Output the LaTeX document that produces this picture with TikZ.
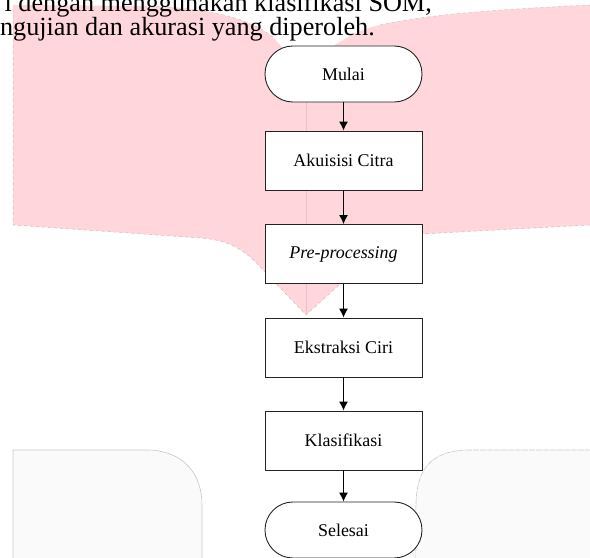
\documentclass[tikz,border=0pt]{standalone}
\usepackage{fontspec}
\setmainfont{Liberation Serif}
\usetikzlibrary{arrows.meta}
\definecolor{pinkbg}{RGB}{255,214,219}
\definecolor{pinkline}{RGB}{238,192,198}
\definecolor{pinkedge}{RGB}{175,160,165}
\definecolor{greybg}{RGB}{250,250,250}
\definecolor{greyline}{RGB}{200,200,200}
\definecolor{boxline}{RGB}{35,35,35}
\begin{document}
\begin{tikzpicture}[x=1bp,y=-1bp,
  flowbox/.style={draw=boxline, line width=0.9bp, fill=white, minimum width=157bp,
    minimum height=59bp, inner sep=0pt, font=\fontsize{18}{20}\selectfont},
  termbox/.style={flowbox, minimum height=56bp, rounded corners=27.9bp},
  flowarrow/.style={draw=black, line width=1bp, -{Latex[length=9bp,width=9bp]}},
  paratext/.style={inner sep=0pt, font=\fontsize{26.3}{28}\selectfont}]
\useasboundingbox (0,0) rectangle (590,558);
\clip (0,0) rectangle (590,558);
% pink background shape
\fill[pinkbg] (13,5) -- (150,6) .. controls (200,8) and (245,15) .. (273,37) -- (306,75)
  -- (335,45) .. controls (350,35) and (365,28) .. (380,25)
  .. controls (420,16) and (480,10) .. (590,5) -- (590,225) -- (422,234)
  .. controls (395,236) and (380,245) .. (370,257) -- (306,315) -- (263,270)
  .. controls (245,250) and (230,240) .. (200,238) -- (13,225) -- cycle;
\draw[pinkedge, dashed, line width=0.5bp, opacity=0.6]
  (590,225) -- (422,234) .. controls (395,236) and (380,245) .. (370,257) -- (306,315) -- (263,270)
  .. controls (245,250) and (230,240) .. (200,238) -- (13,225) -- (13,5);
\draw[pinkedge, dashed, line width=0.5bp, opacity=0.5]
  (273,37) .. controls (245,15) and (200,8) .. (150,6);
\draw[pinkedge, dashed, line width=0.5bp, opacity=0.5]
  (380,25) .. controls (420,16) and (480,10) .. (590,5);
\draw[pinkline, line width=0.8bp] (306,75) -- (306,315);
% grey background shapes
\fill[greybg] (13,560) -- (13,450) -- (150,450) .. controls (185,452) and (202,475) .. (202,505) -- (202,560) -- cycle;
\draw[greyline, line width=0.6bp]
  (13,560) -- (13,450) -- (150,450) .. controls (185,452) and (202,475) .. (202,505) -- (202,560);
\fill[greybg] (415,560) -- (416,503) .. controls (417,470) and (430,452) .. (465,450) -- (592,450) -- (592,560) -- cycle;
\draw[greyline, line width=0.6bp, dash pattern=on 6bp off 1bp]
  (415,560) -- (416,503) .. controls (417,470) and (430,452) .. (465,450) -- (592,450);
% paragraph text
\node[paratext, anchor=base east] (line1) at (432,11.5) {i dengan menggunakan klasifikasi SOM,};
\node[paratext, anchor=base east] (line2) at (375,36) {ngujian dan akurasi yang diperoleh.};
% flowchart
\node[termbox] (mulai) at (343.5,74) {Mulai};
\node[flowbox] (akuisisi) at (343.5,160.5) {Akuisisi Citra};
\node[flowbox] (pre) at (343.5,254) {\itshape Pre-processing};
\node[flowbox] (ekstraksi) at (343.5,347.5) {Ekstraksi Ciri};
\node[flowbox] (klasifikasi) at (343.5,440.5) {Klasifikasi};
\node[termbox] (selesai) at (343.5,530) {Selesai};
\draw[flowarrow] (mulai) -- (akuisisi);
\draw[flowarrow] (akuisisi) -- (pre);
\draw[flowarrow] (pre) -- (ekstraksi);
\draw[flowarrow] (ekstraksi) -- (klasifikasi);
\draw[flowarrow] (klasifikasi) -- (selesai);
\end{tikzpicture}
\end{document}
